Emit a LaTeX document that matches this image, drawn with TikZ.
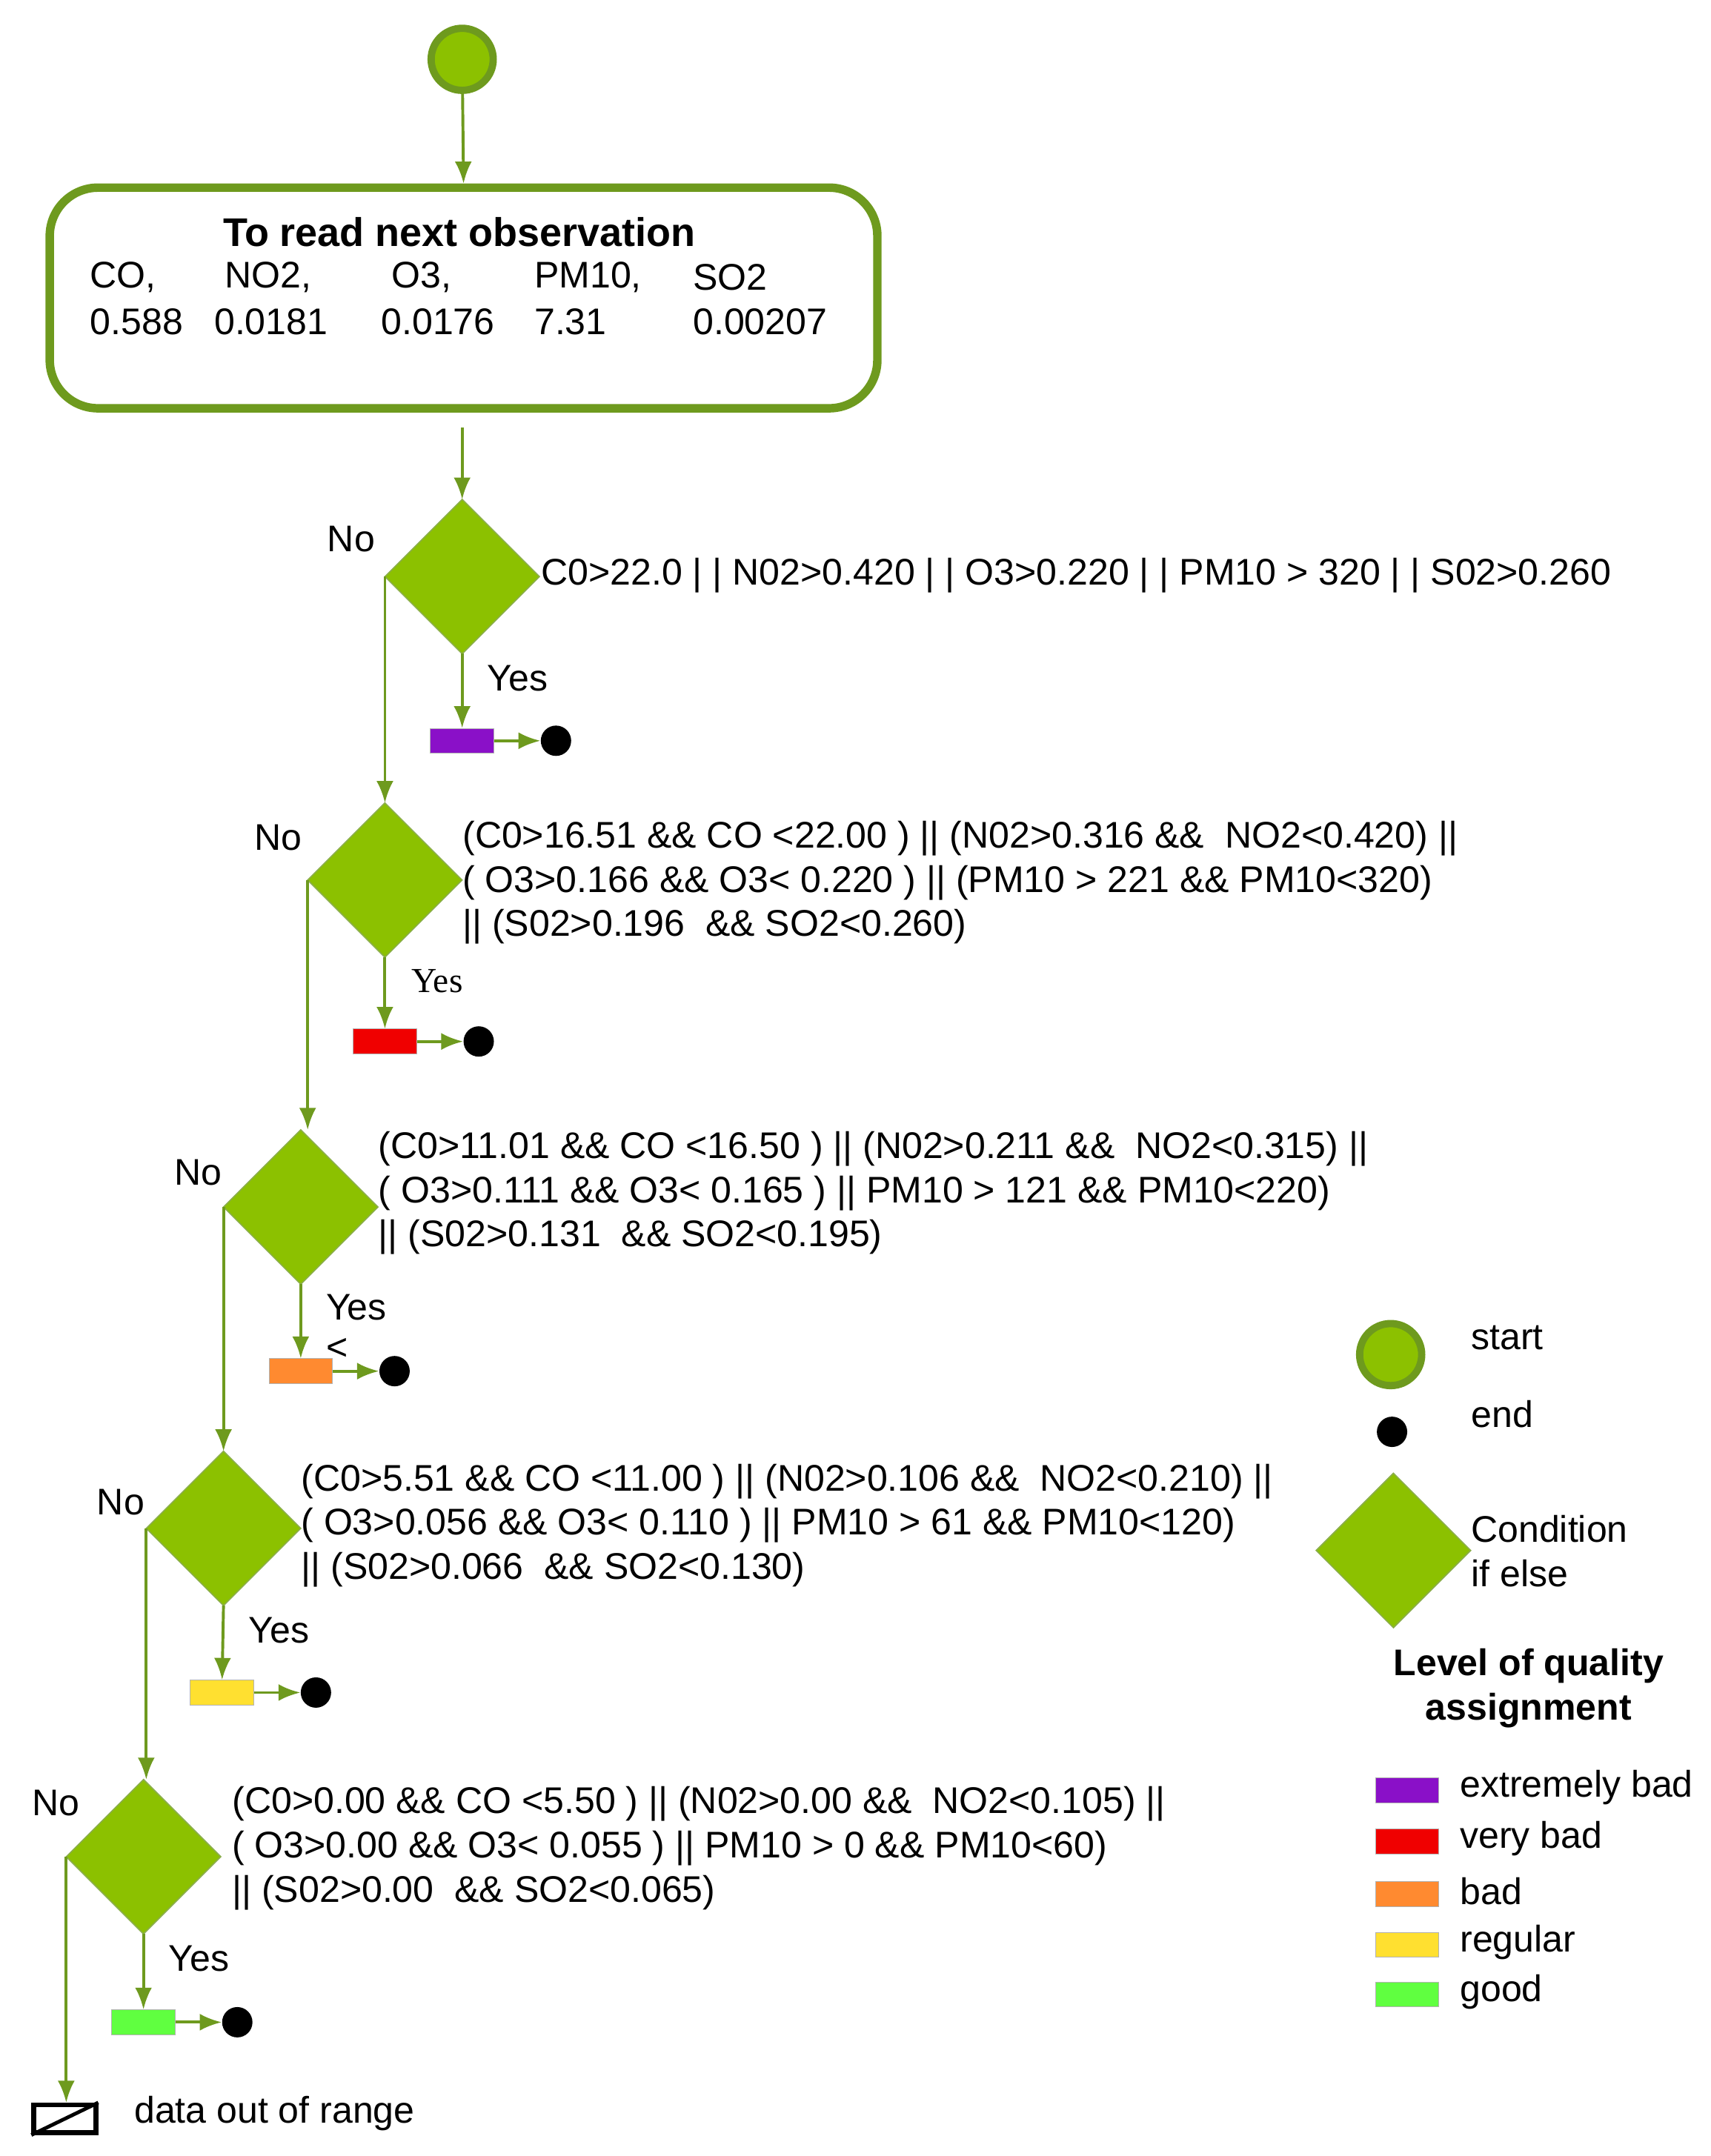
\documentclass[tikz,border=0pt]{standalone}
\usepackage{fontspec}
\setmainfont{Liberation Sans}
\newfontfamily\serifyes{Liberation Serif}
\usetikzlibrary{shapes.geometric,arrows.meta}
\definecolor{dg}{HTML}{6E9A1E}
\definecolor{lg}{HTML}{8CC100}
\definecolor{cpur}{HTML}{8A10C8}
\definecolor{cred}{HTML}{F00000}
\definecolor{cora}{HTML}{FF8A30}
\definecolor{cyel}{HTML}{FFE030}
\definecolor{cgre}{HTML}{60FF40}
\tikzset{
 fl/.style={draw=dg,line width=1.2pt,-{Latex[length=9pt,width=7pt]}},
 dia/.style={diamond,fill=lg,draw=dg!80,line width=0.5pt,minimum width=2.24cm,minimum height=2.24cm,inner sep=0pt,outer sep=0pt},
 lvl/.style={minimum width=0.92cm,minimum height=0.36cm,inner sep=0pt,draw=gray!60,line width=0.3pt},
 enddot/.style={circle,fill=black,minimum size=0.44cm,inner sep=0pt},
 startc/.style={circle,fill=lg,draw=dg,line width=3pt,minimum size=0.9cm,inner sep=0pt},
 txt/.style={anchor=west,inner sep=0pt,font=\fontsize{15.3}{18}\selectfont},
 cond/.style={anchor=north west,inner sep=0pt,align=left,font=\fontsize{15.3}{18.2}\selectfont},
}
\begin{document}
\begin{tikzpicture}[x=0.02cm,y=-0.02cm]
\useasboundingbox (0,0) rectangle (1240,1563);
\node[startc] (s) at (335,43) {};
\node[draw=dg,line width=3.5pt,rounded corners=0.7cm,minimum width=12.0cm,minimum height=3.2cm] (box) at (336,216) {};
\node[font=\bfseries\fontsize{16.5}{19}\selectfont,inner sep=0pt] (title) at (333,168) {To read next observation};
\foreach \x/\a/\b [count=\i] in {65/{CO,}/0.588,155/{\ NO2,}/0.0181,276/{\ O3,}/0.0176,387/{PM10,}/7.31,502/SO2/0.00207}{
  \node[txt] (h\i) at (\x,201) {\a};
  \node[txt] (v\i) at (\x,233) {\b};
}
\draw[fl] (s) -- (box.north);
\coordinate (bo) at (335,310);
\node[dia] (d1) at (335,418) {};
\node[dia] (d2) at (279,638) {};
\node[dia] (d3) at (218,875) {};
\node[dia] (d4) at (162,1108) {};
\node[dia] (d5) at (104,1346) {};
\draw[fl] (bo) -- (d1.north);
\node[txt] (c1) at (392,417) {C0>22.0 | | N02>0.420 | | O3>0.220 | | PM10 > 320 | | S02>0.260};
\node[cond] (c2) at (335,595) {(C0>16.51 \&\& CO <22.00 ) || (N02>0.316 \&\& \ NO2<0.420) ||\\ ( O3>0.166 \&\& O3< 0.220 ) || (PM10 > 221 \&\& PM10<320)\\ || (S02>0.196 \ \&\& SO2<0.260)};
\node[cond] (c3) at (274,820) {(C0>11.01 \&\& CO <16.50 ) || (N02>0.211 \&\& \ NO2<0.315) ||\\ ( O3>0.111 \&\& O3< 0.165 ) || PM10 > 121 \&\& PM10<220)\\ || (S02>0.131 \ \&\& SO2<0.195)};
\node[cond] (c4) at (218,1061) {(C0>5.51 \&\& CO <11.00 ) || (N02>0.106 \&\& \ NO2<0.210) ||\\ ( O3>0.056 \&\& O3< 0.110 ) || PM10 > 61 \&\& PM10<120)\\ || (S02>0.066 \ \&\& SO2<0.130)};
\node[cond] (c5) at (168,1295) {(C0>0.00 \&\& CO <5.50 ) || (N02>0.00 \&\& \ NO2<0.105) ||\\ ( O3>0.00 \&\& O3< 0.055 ) || PM10 > 0 \&\& PM10<60)\\ || (S02>0.00 \ \&\& SO2<0.065)};
\node[txt] (n1) at (237,391) {No};
\node[txt] (n2) at (184,607) {No};
\node[txt] (n3) at (126,850) {No};
\node[txt] (n4) at (70,1089) {No};
\node[txt] (n5) at (23,1307) {No};
\node[txt] (y1) at (353,492) {Yes};
\node[txt,font=\serifyes\fontsize{14.5}{16}\selectfont] (y2) at (298,711) {Yes};
\node[txt] (y3) at (236,948) {Yes};
\node[txt] (y4) at (180,1182) {Yes};
\node[txt] (y5) at (122,1420) {Yes};
\node[txt] (lt) at (236,978) {<};
\foreach \i/\x/\y/\c/\dx in {1/335/537/cpur/403,2/279/755/cred/347,3/218/994/cora/286,4/161/1227/cyel/229,5/104/1466/cgre/172}{
  \node[lvl,fill=\c] (r\i) at (\x,\y) {};
  \node[enddot] (e\i) at (\dx,\y) {};
  \draw[fl] (d\i.south) -- (r\i.north);
  \draw[fl] (r\i.east) -- (e\i.west);
}
\draw[fl] (d1.west) -- (d1.west |- d2.north);
\draw[fl] (d2.west) -- (d2.west |- d3.north);
\draw[fl] (d3.west) -- (d3.west |- d4.north);
\draw[fl] (d4.west) -- (d4.west |- d5.north);
\node[draw=black,line width=2pt,minimum width=0.9cm,minimum height=0.4cm,inner sep=0pt] (oor) at (47,1536) {};
\draw[line width=1.5pt] (oor.south west) -- (oor.north east);
\draw[fl] (d5.west) -- (d5.west |- oor.north);
\node[txt] (oort) at (97,1532) {data out of range};
\node[startc] (ls) at (1008,982) {};
\node[txt] (lst) at (1066,970) {start};
\node[enddot] (le) at (1009,1038) {};
\node[txt] (let) at (1066,1025) {end};
\node[dia] (ld) at (1010,1124) {};
\node[txt,anchor=north west,align=left,font=\fontsize{15.3}{18.5}\selectfont] (ldt) at (1066,1098) {Condition\\if else};
\node[align=center,inner sep=0pt,font=\bfseries\fontsize{15.3}{18.5}\selectfont] (lq) at (1108,1224) {Level of quality\\assignment};
\foreach \c/\y/\t [count=\i] in {cpur/1298/extremely bad,cred/1335/very bad,cora/1373/bad,cyel/1410/regular,cgre/1446/good}{
  \node[lvl,fill=\c] (lr\i) at (1020,\y) {};
  \node[txt] (lt\i) at (1058,\y-2) {\t};
}
\end{tikzpicture}
\end{document}
